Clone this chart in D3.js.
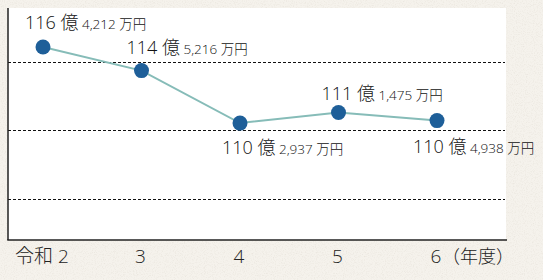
<!DOCTYPE html>
<html>
<head>
<meta charset="utf-8">
<script src="https://cdn.jsdelivr.net/npm/d3@7"></script>
<style>
  body { margin: 0; background: #f4f1ea; }
  svg { display: block; }
  text { font-family: "Open Sans", "Noto Sans CJK JP", sans-serif; font-weight: 300; fill: #111; }
</style>
</head>
<body>
<svg></svg>
<script>
// data
var years = ["令和 2", "3", "4", "5", "6"];
var yearUnit = "（年度）";
var oku = [116, 114, 110, 111, 110];      // 億
var man = [4212, 5216, 2937, 1475, 4938]; // 万円
var gridValues = [115.2, 109.7, 104.2];
// label placement, relative to each point [dx, dy]
var labelOffsets = [[-18, -18], [-15, -17], [-18, 31], [-17, -12], [-24, 32]];

var values = oku.map((d, i) => d + man[i] / 10000);

var width = 543,
  height = 280,
  plot = {left: 8, right: 506, top: 8, bottom: 240};

var svg = d3.select('svg')
  .attr('width', width)
  .attr('height', height);

// paper texture
var defs = svg.append('defs');
var f = defs.append('filter').attr('id', 'paper').attr('x', 0).attr('y', 0).attr('width', '100%').attr('height', '100%');
f.append('feTurbulence').attr('type', 'fractalNoise').attr('baseFrequency', 0.9).attr('numOctaves', 2).attr('result', 'n');
f.append('feColorMatrix').attr('type', 'matrix')
  .attr('values', '0 0 0 0 0.55  0 0 0 0 0.5  0 0 0 0 0.42  0 0 0 -1.4 0.75');

svg.append('rect').attr('width', width).attr('height', height).attr('fill', '#f5f2ec');
svg.append('rect').attr('width', width).attr('height', height).attr('filter', 'url(#paper)').attr('opacity', 0.35);

var x = d3.scalePoint()
  .domain(years)
  .range([43, 437]);

var y = d3.scaleLinear()
  .domain([100.88, 119.56])
  .range([plot.bottom, plot.top]);

// plot area
svg.append('rect')
  .attr('x', plot.left).attr('y', plot.top)
  .attr('width', plot.right - plot.left).attr('height', plot.bottom - plot.top)
  .attr('fill', '#fff');

// gridlines
svg.append('g').selectAll('line').data(gridValues)
  .join('line')
  .attr('x1', plot.left).attr('x2', plot.right - 1)
  .attr('y1', d => Math.round(y(d)) + 0.5).attr('y2', d => Math.round(y(d)) + 0.5)
  .attr('stroke', '#111').attr('stroke-width', 1)
  .attr('stroke-dasharray', '3,2');

// axes lines
svg.append('line')
  .attr('x1', plot.left).attr('x2', plot.left)
  .attr('y1', plot.top).attr('y2', plot.bottom)
  .attr('stroke', '#222').attr('stroke-width', 1.5);
svg.append('line')
  .attr('x1', plot.left - 0.75).attr('x2', plot.right + 1)
  .attr('y1', plot.bottom).attr('y2', plot.bottom)
  .attr('stroke', '#222').attr('stroke-width', 1.5);

// x labels
svg.append('g').selectAll('text').data(years)
  .join('text')
  .attr('x', d => x(d) - 1)
  .attr('y', 263)
  .attr('text-anchor', 'middle')
  .style('font-size', '19px')
  .style('fill', '#222')
  .text(d => d);
svg.append('text')
  .attr('x', x(years[years.length - 1]) + 5)
  .attr('y', 263)
  .style('font-size', '18px')
  .style('fill', '#222')
  .text(yearUnit);

// line
svg.append('path')
  .datum(values)
  .attr('fill', 'none')
  .attr('stroke', '#86bcb8')
  .attr('stroke-width', 2)
  .attr('d', d3.line().x((d, i) => x(years[i])).y(d => y(d)));

// points
svg.append('g').selectAll('circle').data(values)
  .join('circle')
  .attr('cx', (d, i) => x(years[i]))
  .attr('cy', d => y(d))
  .attr('r', 7.5)
  .attr('fill', '#1e5f99');

// value labels
var lab = svg.append('g').selectAll('text').data(values)
  .join('text')
  .attr('x', (d, i) => x(years[i]) + labelOffsets[i][0])
  .attr('y', (d, i) => y(d) + labelOffsets[i][1])
  .style('font-size', '18px');
lab.append('tspan').text((d, i) => oku[i] + ' 億');
lab.append('tspan').style('font-size', '13.5px')
  .text((d, i) => ' ' + d3.format(',')(man[i]) + ' 万円');
</script>
</body>
</html>
